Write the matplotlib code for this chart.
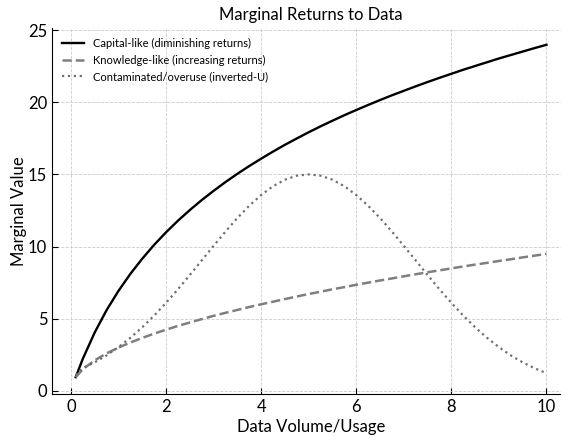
import matplotlib.pyplot as plt

# valores
volume = [0.1, 0.25, 0.5, 0.75, 1, 1.25, 1.5, 1.75, 2, 2.25, 2.5, 2.75, 3,
          3.25, 3.5, 3.75, 4, 4.25, 4.5, 4.75, 5, 5.25, 5.5, 5.75, 6, 6.25,
          6.5, 6.75, 7, 7.25, 7.5, 7.75, 8, 8.25, 8.5, 8.75, 9, 9.25, 9.5,
          9.75, 10]
capital = [0.95, 2.23, 4.05, 5.60, 6.93, 8.11, 9.16, 10.12, 10.99, 11.79,
           12.53, 13.22, 13.86, 14.47, 15.04, 15.58, 16.09, 16.58, 17.05,
           17.49, 17.92, 18.33, 18.72, 19.10, 19.46, 19.81, 20.15, 20.48,
           20.79, 21.10, 21.40, 21.69, 21.97, 22.25, 22.51, 22.77, 23.03,
           23.27, 23.51, 23.75, 23.98]
conhecimento = [0.95, 1.50, 2.12, 2.60, 3.00, 3.35, 3.67, 3.97, 4.24, 4.50,
                4.74, 4.97, 5.20, 5.41, 5.61, 5.81, 6.00, 6.18, 6.36, 6.54,
                6.71, 6.87, 7.04, 7.19, 7.35, 7.50, 7.65, 7.79, 7.94, 8.08,
                8.22, 8.35, 8.49, 8.62, 8.75, 8.87, 9.00, 9.12, 9.25, 9.37,
                9.49]
contaminado = [1.1, 1.57, 1.98, 2.46, 3.03, 3.68, 4.41, 5.22, 6.10, 7.04,
               8.03, 9.04, 10.05, 11.04, 11.98, 12.83, 13.57, 14.18, 14.63,
               14.91, 15.0, 14.91, 14.63, 14.18, 13.57, 12.83, 11.98, 11.04,
               10.05, 9.04, 8.03, 7.04, 6.10, 5.22, 4.41, 3.68, 3.03, 2.46,
               1.98, 1.57, 1.23]

rotulos = ['Capital-like (diminishing returns)',
           'Knowledge-like (increasing returns)',
           'Contaminated/overuse (inverted-U)']

plt.rcParams['font.family'] = ['Lato', 'DejaVu Sans']

fig = plt.figure(figsize=(5.61, 4.40), dpi=100)
ax = fig.add_axes([0.093, 0.105, 0.923, 0.831])

ax.plot(volume, capital, color='black', linewidth=1.7, label=rotulos[0])
ax.plot(volume, conhecimento, color='#7f7f7f', linestyle='--', linewidth=1.8,
        label=rotulos[1])
ax.plot(volume, contaminado, color='#707070', linestyle=':', linewidth=1.6,
        label=rotulos[2])

ax.set_title('Marginal Returns to Data', fontsize=12)
ax.set_xlabel('Data Volume/Usage', fontsize=12, labelpad=3)
ax.set_ylabel('Marginal Value', fontsize=12, labelpad=1)
ax.set_xticks([0, 2, 4, 6, 8, 10])
ax.set_yticks([0, 5, 10, 15, 20, 25])
ax.tick_params(direction='in', length=4, labelsize=12)
ax.grid(True, linestyle='--', linewidth=0.6, color='#cccccc')
ax.spines['top'].set_visible(False)
ax.spines['right'].set_visible(False)
ax.legend(loc='upper left', frameon=False, fontsize=8)

plt.savefig('out.png', dpi=100)
